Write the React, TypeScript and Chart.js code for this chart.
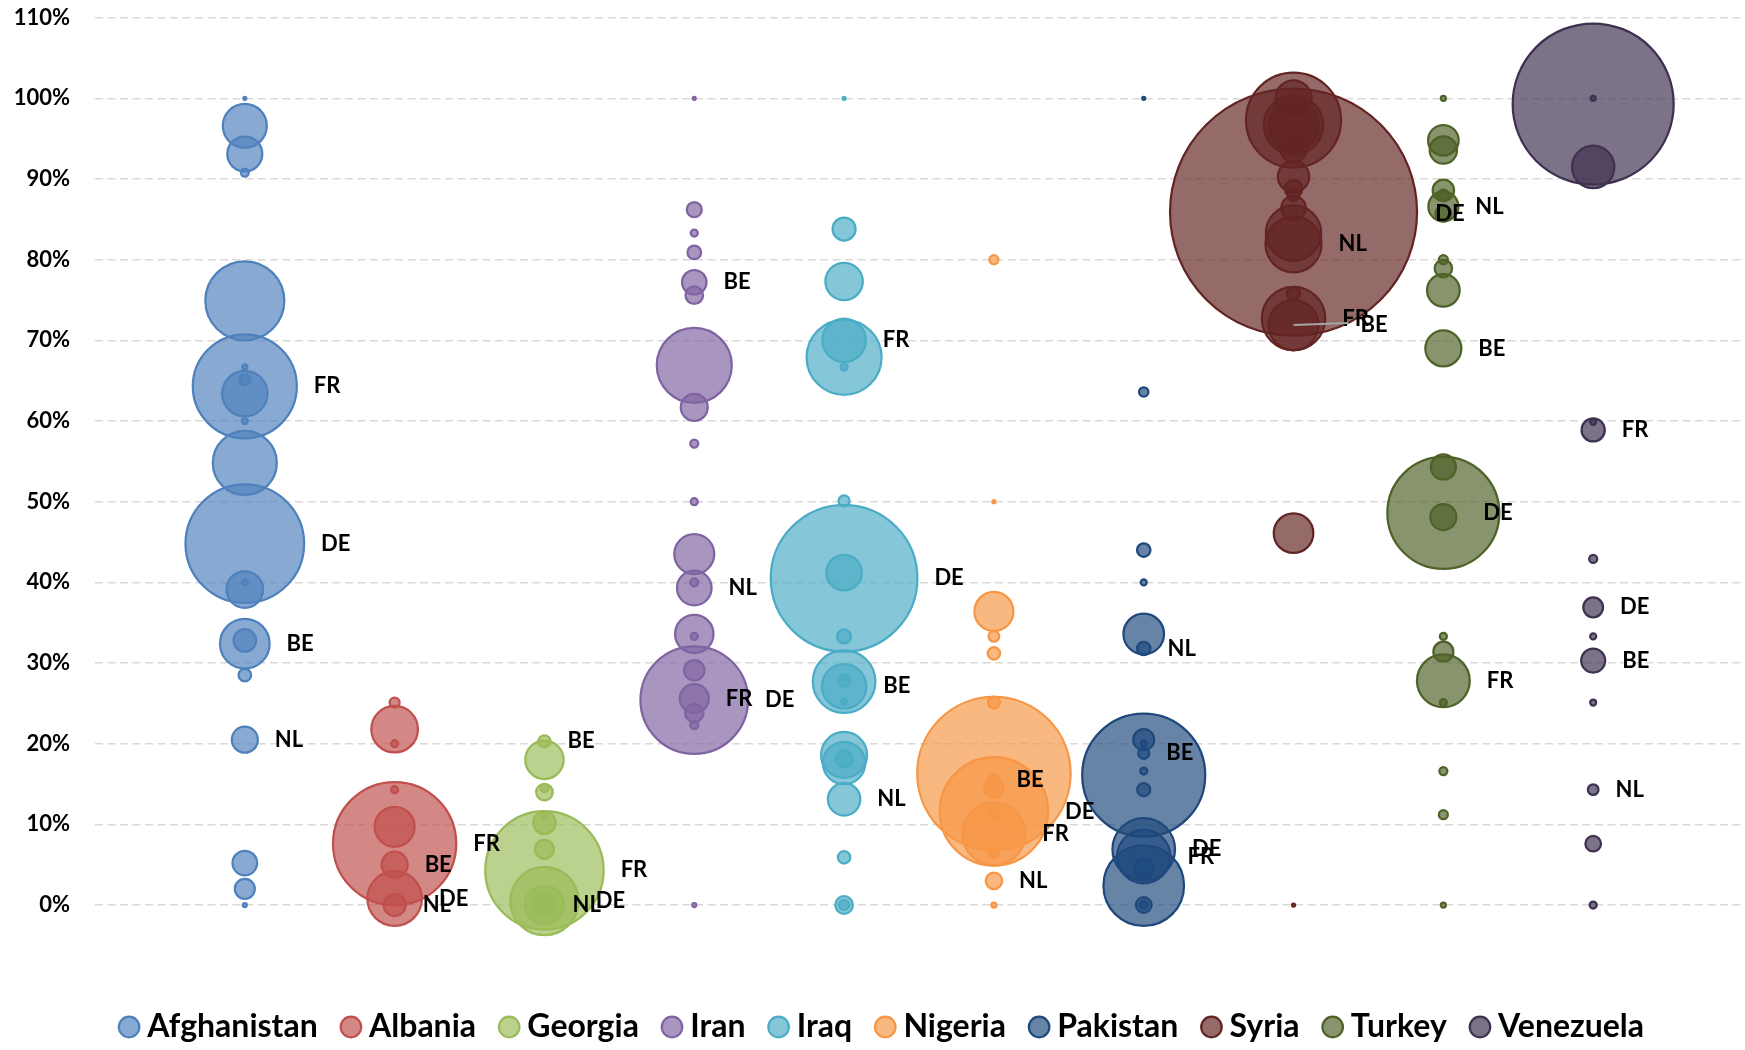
import React, { useEffect, useRef } from 'react';
import { Chart, registerables } from 'chart.js';

Chart.register(...registerables);

// ---------- data ----------
const countries = ['Afghanistan', 'Albania', 'Georgia', 'Iran', 'Iraq', 'Nigeria', 'Pakistan', 'Syria', 'Turkey', 'Venezuela'];
const countryX = [1, 2, 3, 4, 5, 6, 7, 8, 9, 10];
const countryColors = ['#4F81BD', '#C0504D', '#9BBB59', '#8064A2', '#4BACC6', '#F79646', '#1F497D', '#632523', '#4F6228', '#3F3151'];
const yTickValues = [0, 10, 20, 30, 40, 50, 60, 70, 80, 90, 100, 110];

// [share %, bubble size (radius), destination label]
type Bubble = [number, number, string];

const afghanistan: Bubble[] = [
  [100, 1.5, ''], [96.6, 22, ''], [93.1, 17.5, ''], [90.8, 4, ''], [74.9, 39.5, ''],
  [64.3, 52, 'FR'], [63.4, 22.7, ''], [65.1, 5.5, ''], [66.7, 2.5, ''], [60.0, 3, ''],
  [54.8, 32, ''], [44.8, 59.3, 'DE'], [39.1, 18.3, ''], [40.0, 3, ''], [32.4, 24.8, 'BE'],
  [32.8, 11.3, ''], [28.5, 6.3, ''], [20.5, 13, 'NL'], [5.2, 12.3, ''], [2.0, 10, ''], [0, 2, ''],
];
const albania: Bubble[] = [
  [25.1, 5, ''], [21.8, 23.3, ''], [20.0, 3.5, ''], [14.3, 3.5, ''], [7.6, 61.6, 'FR'],
  [9.7, 20, ''], [5.0, 13, 'BE'], [0.8, 27.3, 'DE'], [0, 11, 'NL'],
];
const georgia: Bubble[] = [
  [20.3, 6, 'BE'], [18.0, 19.2, ''], [14.0, 8.3, ''], [14.5, 4, ''], [10.2, 11.2, ''],
  [11.1, 3, ''], [6.9, 9.5, ''], [4.3, 59.2, 'FR'], [0.5, 34.2, 'DE'], [0, 19.5, ''], [0, 11, 'NL'],
];
const iran: Bubble[] = [
  [100, 1.5, ''], [86.2, 7.5, ''], [83.3, 3.5, ''], [80.9, 6.8, ''], [77.2, 12.2, 'BE'],
  [75.6, 8.8, ''], [66.9, 37.5, ''], [61.7, 13.5, ''], [57.2, 4, ''], [50.0, 3.5, ''],
  [43.5, 20, ''], [39.3, 17.3, 'NL'], [40.0, 4, ''], [33.6, 19.2, ''], [33.3, 3.5, ''],
  [29.1, 10.2, ''], [25.4, 53.8, 'DE'], [25.6, 14.5, 'FR'], [23.8, 9.2, ''], [22.3, 4, ''], [0, 2, ''],
];
const iraq: Bubble[] = [
  [100, 1.5, ''], [83.8, 11.5, ''], [77.3, 18.7, ''], [70.0, 21.7, 'FR'], [67.9, 37.5, ''],
  [66.7, 3.5, ''], [50.1, 5.5, ''], [40.5, 73.3, 'DE'], [41.2, 17.8, ''], [33.3, 7, ''],
  [27.7, 31.3, ''], [27.1, 22.2, 'BE'], [27.8, 6, ''], [25.2, 3, ''], [18.6, 23, ''],
  [17.6, 21.2, ''], [18.1, 8.5, ''], [13.1, 16.2, 'NL'], [5.9, 6.2, ''], [0, 8.8, ''], [0, 5, ''],
];
const nigeria: Bubble[] = [
  [80.0, 4.5, ''], [50.0, 1.5, ''], [36.4, 19.5, ''], [33.3, 5.3, ''], [31.2, 6.2, ''],
  [25.1, 6, ''], [16.3, 76.7, ''], [11.6, 54.2, 'DE'], [8.8, 31.3, 'FR'], [15.5, 5.5, 'BE'],
  [14.5, 9.7, ''], [11.2, 5, ''], [6.4, 5, ''], [3.0, 8.2, 'NL'], [0, 2.5, ''],
];
const pakistan: Bubble[] = [
  [100, 1.5, ''], [63.6, 4.7, ''], [44.0, 6.7, ''], [40.0, 3, ''], [33.6, 20.3, ''],
  [31.8, 6.7, 'NL'], [16.1, 61.5, ''], [20.5, 10.5, ''], [20.0, 3, ''], [18.8, 5.5, 'BE'],
  [16.6, 3.5, ''], [14.3, 6.5, ''], [6.9, 31.3, 'DE'], [6.0, 26.7, 'FR'], [2.4, 40.3, ''],
  [4.5, 10, ''], [0, 7.8, ''], [0, 4, ''],
];
const syria: Bubble[] = [
  [100, 18, ''], [97.3, 47.5, ''], [96.7, 29.7, ''], [96.5, 25, ''], [93.6, 12.5, ''],
  [90.3, 15.7, ''], [88.8, 8.7, ''], [88.0, 6, ''], [86.4, 12.2, ''], [85.9, 123.5, ''],
  [83.3, 27.7, ''], [81.9, 28, 'NL'], [75.8, 6.7, ''], [72.7, 31.7, 'FR'], [71.9, 25, 'BE'],
  [46.1, 19.8, ''], [0, 1.5, ''],
];
const turkey: Bubble[] = [
  [100, 2.5, ''], [94.8, 15.3, ''], [93.6, 13.7, ''], [88.6, 10.7, ''], [88.0, 5.5, ''],
  [86.6, 15, 'NL'], [85.7, 8, 'DE'], [80.0, 4.5, ''], [78.9, 8.7, ''], [76.2, 16.3, ''],
  [69.0, 18, 'BE'], [54.3, 12.5, ''], [48.6, 56, 'DE'], [48.1, 13, ''], [33.3, 3.5, ''],
  [31.4, 10, ''], [27.8, 26.4, 'FR'], [25.1, 3.5, ''], [16.6, 4, ''], [11.2, 4.5, ''], [0, 2.5, ''],
];
const venezuela: Bubble[] = [
  [99.3, 80.5, ''], [100, 2.5, ''], [91.5, 21.2, ''], [58.9, 11.6, 'FR'], [59.9, 3, ''],
  [42.9, 4, ''], [36.9, 9.9, 'DE'], [33.3, 3, ''], [30.3, 12, 'BE'], [25.1, 3, ''],
  [14.3, 5.3, 'NL'], [7.6, 7.8, ''], [0, 3.5, ''],
];

const countryBubbles = [afghanistan, albania, georgia, iran, iraq, nigeria, pakistan, syria, turkey, venezuela];

// ---------- styling ----------
const FONT = 'Lato, "Open Sans", sans-serif';
const FILL_ALPHA = 0.68;
const LABEL_GAP = 17;
const LEGEND_SHIFT = 14;
const labelNudges: Record<string, { dx: number; leader?: boolean }> = {
  'Syria:BE': { dx: 25, leader: true },
  'Turkey:DE': { dx: -33 },
};

function hexToRgba(hex: string, a: number) {
  const n = parseInt(hex.slice(1), 16);
  return `rgba(${(n >> 16) & 255}, ${(n >> 8) & 255}, ${n & 255}, ${a})`;
}

const bubbleLabelsPlugin = {
  id: 'bubbleLabels',
  afterLayout(chart: any) {
    const lg = chart.legend;
    if (lg) {
      lg.left += LEGEND_SHIFT;
      lg.right += LEGEND_SHIFT;
    }
  },
  afterDatasetsDraw(chart: any) {
    const ctx = chart.ctx;
    ctx.save();
    ctx.font = `bold 22px ${FONT}`;
    ctx.textBaseline = 'middle';
    ctx.textAlign = 'left';
    chart.data.datasets.forEach((ds: any, di: number) => {
      const meta = chart.getDatasetMeta(di);
      meta.data.forEach((el: any, i: number) => {
        const raw = ds.data[i];
        if (!raw || !raw.label) return;
        const r = el.options.radius;
        const nudge = labelNudges[ds.label + ':' + raw.label];
        const x = el.x + r + LABEL_GAP + (nudge ? nudge.dx : 0);
        const y = el.y;
        if (nudge && nudge.leader) {
          ctx.strokeStyle = '#A6A6A6';
          ctx.lineWidth = 2;
          ctx.beginPath();
          ctx.moveTo(el.x, y);
          ctx.lineTo(x - 12, y - 2);
          ctx.stroke();
        }
        ctx.fillStyle = '#000000';
        ctx.fillText(raw.label, x, y);
      });
    });
    ctx.restore();
  },
};

export default function App() {
  const canvasRef = useRef<HTMLCanvasElement | null>(null);

  useEffect(() => {
    if (!canvasRef.current) return;
    Chart.defaults.font.family = FONT;

    const datasets = countries.map((name, i) => ({
      label: name,
      data: [...countryBubbles[i]]
        .sort((a, b) => b[1] - a[1])
        .map(([y, r, label]) => ({ x: countryX[i], y, r, label })),
      backgroundColor: hexToRgba(countryColors[i], FILL_ALPHA),
      borderColor: countryColors[i],
      borderWidth: 2.25,
      clip: false as any,
    }));

    const chart = new Chart(canvasRef.current, {
      type: 'bubble',
      data: { datasets: datasets as any },
      options: {
        animation: false,
        responsive: false,
        devicePixelRatio: 1,
        events: [],
        layout: { autoPadding: false, padding: { top: 17.7, right: 2, bottom: -3, left: 0 } },
        scales: {
          x: {
            type: 'linear',
            min: 0,
            max: 11,
            ticks: { display: false },
            grid: { display: false, drawTicks: false },
            border: { display: false },
            afterFit: (s: any) => { s.height = 75; s.paddingLeft = 0; s.paddingRight = 0; },
          },
          y: {
            type: 'linear',
            min: 0,
            max: 110,
            afterBuildTicks: (s: any) => { s.ticks = yTickValues.map((v) => ({ value: v })); },
            afterFit: (s: any) => { s.width = 95; s.paddingTop = 0; s.paddingBottom = 0; },
            ticks: {
              padding: 25,
              color: '#000000',
              font: { family: FONT, weight: 'bold', size: 22 },
              callback: (v: any) => `${v}%`,
            },
            grid: { color: '#D9D9D9', lineWidth: 1.5, drawTicks: false },
            border: { display: false, dash: [8, 4.5] },
          },
        },
        plugins: {
          tooltip: { enabled: false },
          legend: {
            position: 'bottom',
            align: 'center',
            labels: {
              usePointStyle: true,
              pointStyle: 'circle',
              boxWidth: 4.3,
              boxHeight: 14.5,
              padding: 31,
              color: '#000000',
              font: { family: FONT, weight: 'bold', size: 32 },
            },
          },
        },
      } as any,
      plugins: [bubbleLabelsPlugin],
    });

    return () => chart.destroy();
  }, []);

  return (
    <div style={{ position: 'absolute', left: 0, top: 0, width: 1745, height: 1050, background: '#ffffff' }}>
      <canvas ref={canvasRef} width={1745} height={1050} style={{ display: 'block' }} />
    </div>
  );
}
